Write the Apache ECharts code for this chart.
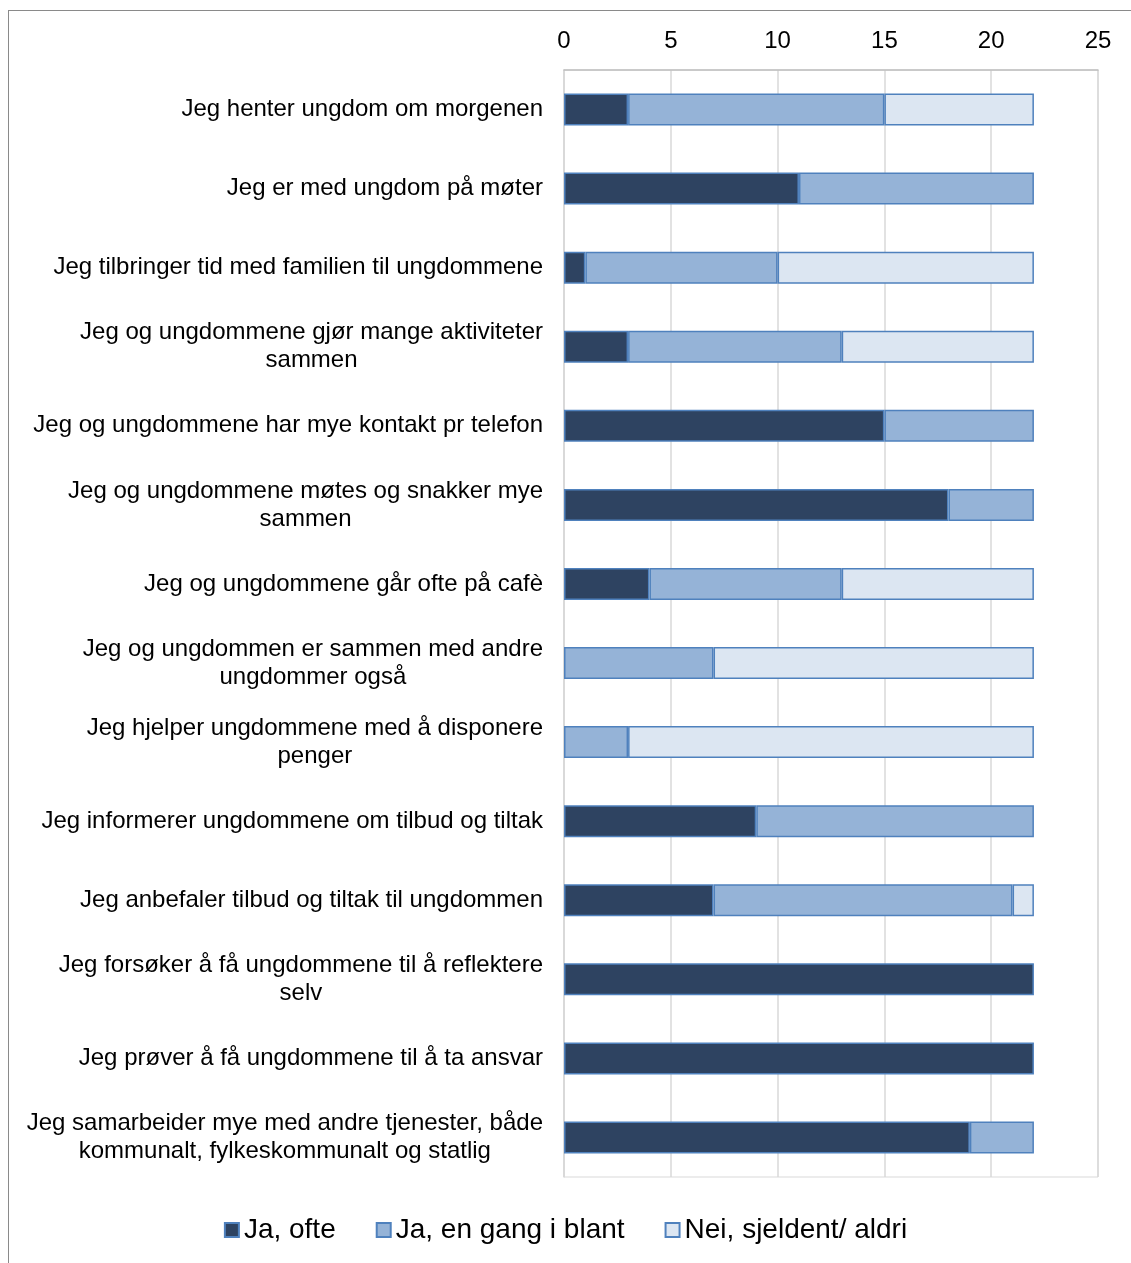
<!DOCTYPE html>
<html><head><meta charset="utf-8">
<script src="https://cdn.jsdelivr.net/npm/echarts@6/dist/echarts.min.js"></script>
<style>
html,body{margin:0;padding:0;background:#fff;}
#frame{position:absolute;left:8px;top:10px;width:1200px;height:1300px;border-left:1.5px solid #8a8a8a;border-top:1.5px solid #8a8a8a;}
#chart{position:absolute;left:0;top:0;width:1131px;height:1263px;}
</style></head>
<body>
<div id="frame"></div>
<div id="chart"></div>
<script>
const categories = [
  "Jeg henter ungdom om morgenen",
  "Jeg er med ungdom på møter",
  "Jeg tilbringer tid med familien til ungdommene",
  "Jeg og ungdommene gjør mange aktiviteter\nsammen",
  "Jeg og ungdommene har mye kontakt pr telefon",
  "Jeg og ungdommene møtes og snakker mye\nsammen",
  "Jeg og ungdommene går ofte på cafè",
  "Jeg og ungdommen er sammen med andre\nungdommer også",
  "Jeg hjelper ungdommene med å disponere\npenger",
  "Jeg informerer ungdommene om tilbud og tiltak",
  "Jeg anbefaler tilbud og tiltak til ungdommen",
  "Jeg forsøker å få ungdommene til å reflektere\nselv",
  "Jeg prøver å få ungdommene til å ta ansvar",
  "Jeg samarbeider mye med andre tjenester, både\nkommunalt, fylkeskommunalt og statlig"
];
const seriesNames = ["Ja, ofte", "Ja, en gang i blant", "Nei, sjeldent/ aldri"];
const jaOfte =      [3, 11, 1, 3, 15, 18, 4, 0, 0, 9, 7, 22, 22, 19];
const jaEnGang =    [12, 11, 9, 10, 7, 4, 9, 7, 3, 13, 14, 0, 0, 3];
const neiSjeldent = [7, 0, 12, 9, 0, 0, 9, 15, 19, 0, 1, 0, 0, 0];
const xTicks = [0, 5, 10, 15, 20, 25];

const colors = ["#2E4361", "#95B3D7", "#DCE6F2"];
const values = [jaOfte, jaEnGang, neiSjeldent];

const chart = echarts.init(document.getElementById('chart'));
const series = seriesNames.map((n, i) => ({
  name: n,
  type: 'bar',
  stack: 'total',
  barWidth: 32,
  data: values[i].map(v => v === 0 ? null : v),
  itemStyle: { color: colors[i], borderColor: '#4F81BD', borderWidth: 1.5 },
  emphasis: { disabled: true }
}));

chart.setOption({
  animation: false,
  textStyle: { fontFamily: 'Liberation Sans, Arial, sans-serif' },
  grid: { left: 564, right: 33, top: 70, bottom: 86, show: true, borderColor: '#D9D9D9', borderWidth: 1 },
  xAxis: {
    type: 'value', position: 'top', min: xTicks[0], max: xTicks[xTicks.length - 1], interval: 5,
    axisLine: { show: true, lineStyle: { color: '#BFBFBF', width: 1.5 } },
    axisTick: { show: false },
    splitLine: { show: true, lineStyle: { color: '#D9D9D9', width: 1.5 } },
    axisLabel: { color: '#000', fontSize: 24, margin: 17, fontFamily: 'Liberation Sans' }
  },
  yAxis: {
    type: 'category', inverse: true, data: categories,
    axisLine: { show: true, lineStyle: { color: '#D9D9D9', width: 1.5 } },
    axisTick: { show: false },
    axisLabel: {
      color: '#000', fontSize: 24, margin: 21, align: 'right', lineHeight: 28,
      fontFamily: 'Liberation Sans',
      formatter: v => v.split('\n').map(l => '{c|' + l + '}').join('\n'),
      rich: { c: { align: 'center', fontSize: 24, lineHeight: 28, color: '#000', fontFamily: 'Liberation Sans' } }
    }
  },
  legend: {
    bottom: 14, left: 'center', itemWidth: 14, itemHeight: 14, itemGap: 40,
    icon: 'rect',
    textStyle: { fontSize: 28, color: '#000', fontFamily: 'Liberation Sans' },
    data: seriesNames
  },
  series: series
});
</script>
</body></html>
